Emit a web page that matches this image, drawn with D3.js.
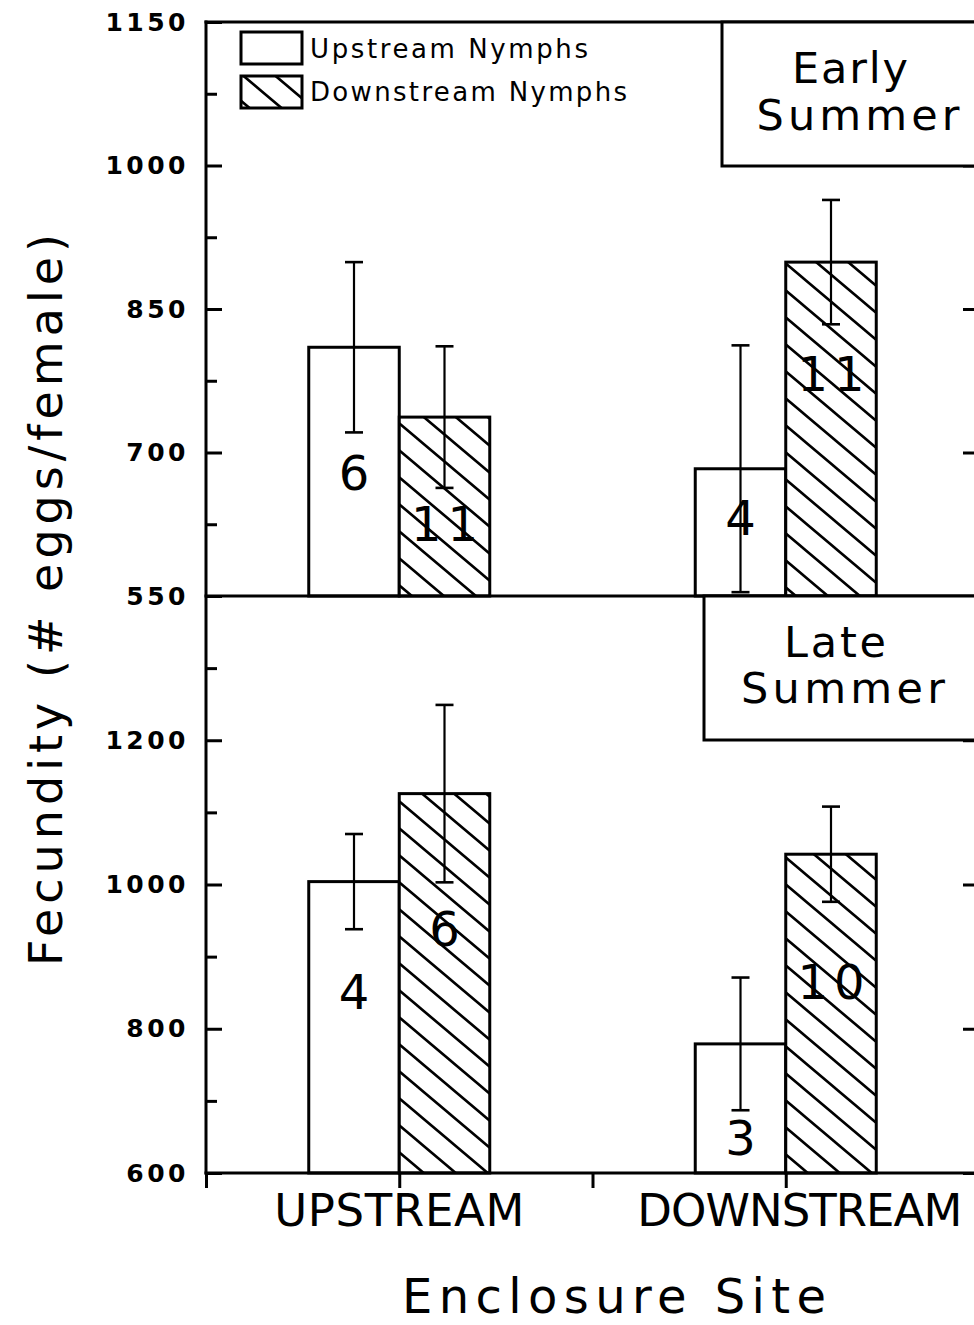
<!DOCTYPE html>
<html>
<head>
<meta charset="utf-8">
<script src="https://cdn.jsdelivr.net/npm/d3@7"></script>
<style>
  html, body { margin: 0; padding: 0; background: #fff; }
  svg { display: block; }
  text { font-family: "DejaVu Sans", sans-serif; fill: #000; }
</style>
</head>
<body>
<svg id="chart" width="974" height="1325"></svg>
<script>
// ---- data -------------------------------------------------------------
const sites   = ["UPSTREAM", "DOWNSTREAM"];               // enclosure site
const nymphs  = ["Upstream Nymphs", "Downstream Nymphs"]; // nymph origin
const seasons = ["Early Summer", "Late Summer"];

// mean fecundity (# eggs/female), indexed [site][nymph origin]
const earlyMean = [[810, 737], [683, 899]];
const earlyErr  = [[89, 74], [129, 65]];
const earlyN    = [[6, 11], [4, 11]];

const lateMean  = [[1004, 1126], [779, 1042]];
const lateErr   = [[66, 123], [92, 66]];
const lateN     = [[4, 6], [3, 10]];

// axis ticks
const earlyTicks = [550, 700, 850, 1000, 1150];
const earlyMinor = [625, 775, 925, 1075];
const lateTicks  = [600, 800, 1000, 1200];
const lateMinor  = [700, 900, 1100, 1300];
const lateTop    = 1400;

// ---- layout -----------------------------------------------------------
const xLeft = 206, xRight = 979;
const yTopEdge = 22, yDivide = 596, yBottom = 1173;
const halfGroup = 90.5;                      // width of one bar
// where each sample-size label sits, in axis units
const earlyLabelAt = [[661, 607], [614, 764]];
const lateLabelAt  = [[827, 915], [625, 841]];

const svg = d3.select("#chart");
svg.append("rect").attr("width", 974).attr("height", 1325).attr("fill", "#fff");

const x = d3.scaleBand().domain(sites).range([xLeft, xRight]);
const xN = d3.scaleBand().domain(nymphs).range([-halfGroup, halfGroup]);
const xTick = d3.scaleLinear().domain([0, 4]).range([xLeft, xRight]);

const yEarly = d3.scaleLinear().domain([earlyTicks[0], earlyTicks[earlyTicks.length - 1]]).range([yDivide, yTopEdge]);
const yLate  = d3.scaleLinear().domain([lateTicks[0], lateTop]).range([yBottom, yDivide]);

// diagonal hatch fill
const hw = 32, hh = 27;
const defs = svg.append("defs");
const pat = defs.append("pattern").attr("id", "hatch")
  .attr("patternUnits", "userSpaceOnUse")
  .attr("width", hw).attr("height", hh)
  .attr("x", 3).attr("y", 8);
pat.append("rect").attr("width", hw).attr("height", hh).attr("fill", "#fff");
pat.append("path")
  .attr("d", `M${-hw},${-hh}L${2 * hw},${2 * hh}M${-hw},0L${hw},${2 * hh}M0,${-hh}L${2 * hw},${hh}`)
  .attr("stroke", "#000").attr("stroke-width", 2.6).attr("fill", "none");

const fills = ["#fff", "url(#hatch)"];

const panels = [
  { season: seasons[0], y: yEarly, mean: earlyMean, err: earlyErr, n: earlyN,
    ticks: earlyTicks, minor: earlyMinor, labelAt: earlyLabelAt },
  { season: seasons[1], y: yLate, mean: lateMean, err: lateErr, n: lateN,
    ticks: lateTicks, minor: lateMinor, labelAt: lateLabelAt }
];

panels.forEach(p => {
  const g = svg.append("g");
  const base = p.y.domain()[0];
  const rows = [];
  sites.forEach((s, i) => nymphs.forEach((nm, j) => rows.push({
    site: s, nymph: nm, j,
    mean: p.mean[i][j], err: p.err[i][j], n: p.n[i][j], at: p.labelAt[i][j]
  })));
  const bx = d => x(d.site) + x.bandwidth() / 2 + xN(d.nymph);
  const cx = d => bx(d) + xN.bandwidth() / 2;

  // bars
  g.selectAll("rect.bar").data(rows).join("rect")
    .attr("class", "bar")
    .attr("x", bx)
    .attr("width", xN.bandwidth())
    .attr("y", d => p.y(d.mean))
    .attr("height", d => p.y(base) - p.y(d.mean))
    .attr("fill", d => fills[d.j])
    .attr("stroke", "#000").attr("stroke-width", 3);

  // error bars
  const eb = g.selectAll("g.err").data(rows).join("g").attr("class", "err")
    .attr("stroke", "#000");
  eb.append("line")
    .attr("x1", cx).attr("x2", cx)
    .attr("y1", d => p.y(d.mean - d.err)).attr("y2", d => p.y(d.mean + d.err))
    .attr("stroke-width", 2.2);
  [-1, 1].forEach(sgn => {
    eb.append("line")
      .attr("x1", d => cx(d) - 9).attr("x2", d => cx(d) + 9)
      .attr("y1", d => p.y(d.mean + sgn * d.err)).attr("y2", d => p.y(d.mean + sgn * d.err))
      .attr("stroke-width", 2.6);
  });

  // sample sizes
  g.selectAll("text.n").data(rows).join("text")
    .attr("class", "n")
    .attr("x", d => cx(d) + (d.n >= 10 ? 3 : 0))
    .attr("y", d => p.y(d.at))
    .attr("text-anchor", "middle")
    .attr("font-size", 48)
    .attr("letter-spacing", d => d.n >= 10 ? 6 : 0)
    .text(d => d.n);

  // left axis, major ticks with labels
  const axL = svg.append("g").attr("transform", `translate(${xLeft},0)`)
    .call(d3.axisLeft(p.y).tickValues(p.ticks).tickSize(-16).tickPadding(17)
      .tickFormat(d3.format("d")));
  axL.select(".domain").remove();
  axL.attr("font-family", null).attr("font-size", null);
  axL.selectAll(".tick line").attr("stroke", "#000").attr("stroke-width", 3);
  axL.selectAll(".tick text")
    .attr("font-size", 25).attr("font-weight", "bold")
    .attr("letter-spacing", 3.5).attr("fill", "#000");

  // left axis, minor ticks
  const axM = svg.append("g").attr("transform", `translate(${xLeft},0)`)
    .call(d3.axisLeft(p.y).tickValues(p.minor).tickSize(-11).tickFormat(""));
  axM.select(".domain").remove();
  axM.selectAll(".tick line").attr("stroke", "#000").attr("stroke-width", 3);

  // right axis, major ticks only
  const axR = svg.append("g").attr("transform", `translate(${xRight},0)`)
    .call(d3.axisRight(p.y).tickValues(p.ticks).tickSize(-16).tickFormat(""));
  axR.select(".domain").remove();
  axR.selectAll(".tick line").attr("stroke", "#000").attr("stroke-width", 3);
});

// bottom axis ticks
const axB = svg.append("g").attr("transform", `translate(0,${yBottom})`)
  .call(d3.axisBottom(xTick).tickValues([0, 1, 2, 3, 4]).tickSize(15).tickFormat(""));
axB.select(".domain").remove();
axB.selectAll(".tick line").attr("stroke", "#000").attr("stroke-width", 3);

// frame
const frame = svg.append("g").attr("stroke", "#000").attr("stroke-width", 3)
  .attr("stroke-linecap", "square");
frame.append("line").attr("x1", xLeft).attr("x2", xLeft).attr("y1", yTopEdge).attr("y2", yBottom);
frame.append("line").attr("x1", xRight).attr("x2", xRight).attr("y1", yTopEdge).attr("y2", yBottom);
[yTopEdge, yDivide, yBottom].forEach(yy =>
  frame.append("line").attr("x1", xLeft).attr("x2", xRight).attr("y1", yy).attr("y2", yy));

// season boxes
const seasonBoxes = [
  { x0: 722, y0: yTopEdge, h: 144, lines: ["Early", "Summer"], cx: [850, 858], by: [83, 130], len: [116, 203] },
  { x0: 704, y0: yDivide,  h: 144, lines: ["Late", "Summer"],  cx: [835, 843], by: [657, 703], len: [102, 204] }
];
seasonBoxes.forEach((b, k) => {
  const g = svg.append("g").attr("aria-label", seasons[k]);
  g.append("rect").attr("x", b.x0).attr("y", b.y0).attr("width", xRight + 10 - b.x0).attr("height", b.h)
    .attr("fill", "#fff").attr("stroke", "#000").attr("stroke-width", 3);
  b.lines.forEach((t, i) => {
    g.append("text").attr("x", b.cx[i]).attr("y", b.by[i])
      .attr("text-anchor", "middle").attr("font-size", 43)
      .attr("textLength", b.len[i]).attr("lengthAdjust", "spacing")
      .text(t);
  });
});

// legend
const leg = svg.append("g");
const legY = [32, 76];
const legTextY = [58, 101];
const legLen = [278, 317];
nymphs.forEach((nm, j) => {
  leg.append("rect").attr("x", 241).attr("y", legY[j]).attr("width", 61).attr("height", 32)
    .attr("fill", fills[j]).attr("stroke", "#000").attr("stroke-width", 3);
  leg.append("text").attr("x", 310).attr("y", legTextY[j])
    .attr("font-size", 26)
    .attr("textLength", legLen[j]).attr("lengthAdjust", "spacing")
    .text(nm);
});

// site labels
const siteDx = [0, 14];
const siteLen = [250, 325];
sites.forEach((s, i) => {
  svg.append("text")
    .attr("x", x(s) + x.bandwidth() / 2 + siteDx[i]).attr("y", 1226)
    .attr("text-anchor", "middle").attr("font-size", 45)
    .attr("textLength", siteLen[i]).attr("lengthAdjust", "spacing")
    .text(s);
});

// axis titles
svg.append("text")
  .attr("x", 614).attr("y", 1313)
  .attr("text-anchor", "middle").attr("font-size", 48)
  .attr("textLength", 424).attr("lengthAdjust", "spacing")
  .text("Enclosure Site");

svg.append("text")
  .attr("transform", "translate(62,600) rotate(-90)")
  .attr("text-anchor", "middle").attr("font-size", 46)
  .attr("textLength", 732).attr("lengthAdjust", "spacing")
  .text("Fecundity (# eggs/female)");
</script>
</body>
</html>
